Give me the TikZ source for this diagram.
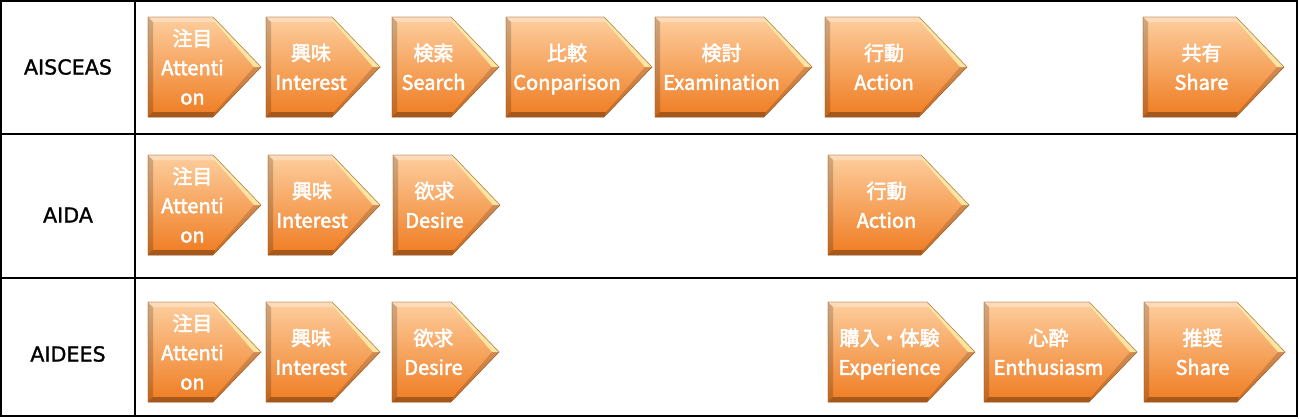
\documentclass[tikz,border=0pt]{standalone}
\usepackage{fontspec}
\setmainfont{Noto Sans CJK JP}
\newfontface\chfont{Noto Sans CJK JP}[FakeBold=2.5]
\newfontface\labfont{DejaVu Sans}[FakeBold=1.2]
\definecolor{chtop}{RGB}{253,206,158}
\definecolor{chbot}{RGB}{239,124,34}
\definecolor{chhi}{RGB}{255,240,170}
\definecolor{chedge}{RGB}{160,96,42}
\tikzset{
  chtext/.style={text=white,align=center,inner sep=0pt,font=\chfont\fontsize{15pt}{22pt}\selectfont},
  rowlabel/.style={text=black,inner sep=0pt,font=\labfont\fontsize{15.5pt}{18pt}\selectfont},
  grid/.style={line width=1.5pt,black}
}
\newcommand\chev[5]{%
  \pgfmathsetmacro\cL{#2}\pgfmathsetmacro\cT{#3}\pgfmathsetmacro\cX{#4}%
  \pgfmathsetmacro\cR{#4-48}\pgfmathsetmacro\cB{#3+100}\pgfmathsetmacro\cM{#3+50}%
  \pgfmathsetmacro\iL{#2+5}\pgfmathsetmacro\iT{#3+5}\pgfmathsetmacro\iB{#3+95}%
  \pgfmathsetmacro\iR{#4-48+2}\pgfmathsetmacro\iX{#4-7}%
  \fill[top color=chtop,bottom color=chbot] (\cL,\cT) -- (\cR,\cT) -- (\cX,\cM) -- (\cR,\cB) -- (\cL,\cB) -- cycle;
  \fill[black,opacity=0.18] (\cL,\cT) -- (\iL,\iT) -- (\iL,\iB) -- (\cL,\cB) -- cycle;
  \fill[white,opacity=0.3] (\cL,\cT) -- (\cR,\cT) -- (\iR,\iT) -- (\iL,\iT) -- cycle;
  \fill[chhi,opacity=0.85] (\cR,\cT) -- (\cX,\cM) -- (\iX,\cM) -- (\iR,\iT) -- cycle;
  \fill[black,opacity=0.15] (\cX,\cM) -- (\cR,\cB) -- (\iR,\iB) -- (\iX,\cM) -- cycle;
  \fill[black,opacity=0.3] (\cL,\cB) -- (\cR,\cB) -- (\iR,\iB) -- (\iL,\iB) -- cycle;
  \draw[chedge,opacity=0.6,line width=0.5pt] (\cL,\cT) -- (\cR,\cT) -- (\cX,\cM) -- (\cR,\cB) -- (\cL,\cB) -- cycle;
  \node[chtext] (#1) at ({(#2+#4)/2-12},{#3+52}) {#5\vphantom{p}};
}
\begin{document}
\begin{tikzpicture}[x=0.75pt,y=-0.75pt]
\useasboundingbox (0,0) rectangle (1299,418);
\fill[white] (0,0) rectangle (1299,418);
% table
\draw[grid] (1,1) rectangle (1297,416);
\draw[grid] (1,133.5) -- (1297,133.5);
\draw[grid] (1,278) -- (1297,278);
\draw[grid] (135,1) -- (135,416);
% row labels
\node[rowlabel] (l1) at (68,67) {AISCEAS};
\node[rowlabel] (l2) at (68,215) {AIDA};
\node[rowlabel] (l3) at (68,354) {AIDEES};
% row 1
\chev{a1}{148}{17}{261}{注目\\Attenti\\on}
\chev{a2}{266}{17}{380}{興味\\Interest}
\chev{a3}{392}{17}{499}{検索\\Search}
\chev{a4}{506}{17}{652}{比較\\Conparison}
\chev{a5}{655}{17}{812}{検討\\Examination}
\chev{a6}{825}{17}{967}{行動\\Action}
\chev{a7}{1143}{17}{1284}{共有\\Share}
% row 2
\chev{b1}{148}{155}{261}{注目\\Attenti\\on}
\chev{b2}{268}{155}{380}{興味\\Interest}
\chev{b3}{393}{155}{500}{欲求\\Desire}
\chev{b4}{828}{155}{969}{行動\\Action}
% row 3
\chev{c1}{148}{302}{261}{注目\\Attenti\\on}
\chev{c2}{266}{302}{380}{興味\\Interest}
\chev{c3}{392}{302}{499}{欲求\\Desire}
\chev{c4}{828}{302}{975}{購入・体験\\Experience}
\chev{c5}{984}{302}{1137}{心酔\\Enthusiasm}
\chev{c6}{1144}{302}{1285}{推奨\\Share}
\end{tikzpicture}
\end{document}
